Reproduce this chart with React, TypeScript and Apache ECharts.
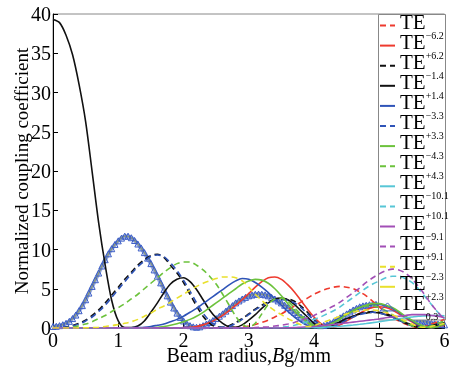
import React, { useEffect, useRef } from "react";
import * as echarts from "echarts";

// x positions (Beam radius, mm) for line series: 0 .. 6 step 0.1
const xLine = Array.from({ length: 61 }, (_, i) => Math.round(i * 10) / 100);
// x positions for the dense triangle markers: 0 .. 6 step 0.05
const xTri = Array.from({ length: 121 }, (_, i) => Math.round(i * 5) / 100);

const teM62 = [0,0,0,0,0,0,0,0,0,0, 0,0,0,0,0,0,0,0,0,0, 0,0,0,0,0.01,0.02,0.03,0.05,0.07,
  0.1,0.25,0.45,0.7,1.0,1.4,1.8,2.3,2.8,3.3,3.8,4.3,4.7,5.0,5.2,5.3,5.2,5.0,4.6,4.1,3.4,2.7,2.0,1.4,0.9,0.5,0.2,0.05,0.2,0.5,0.8,1.1];
const teP62 = [0,0,0,0,0,0,0,0,0,0, 0,0,0,0,0,0,0,0,0,0,
  0.05,0.1,0.2,0.4,0.7,1.1,1.6,2.2,2.9,3.6,4.4,5.2,5.9,6.4,6.5,6.2,5.5,4.6,3.5,2.4,1.4,0.6,0.1,0.1,0.4,0.9,1.4,1.9,2.3,2.6,2.7,2.6,2.3,1.8,1.3,0.8,0.3,0.1,0.05,0.2,0.4];
const teM14 = [0,0.02,0.1,0.3,0.6,1.0,1.6,2.3,3.2,4.2,5.2,6.2,7.1,8.0,8.7,9.2,9.4,9.0,8.0,7.0,5.8,4.3,2.8,1.5,0.6,0.15,0.1,0.3,0.7,1.2,
  1.8,2.4,2.9,3.3,3.6,3.7,3.7,3.4,2.8,2.0,1.1,0.4,0.1,0.3,0.7,1.1,1.5,1.8,2.0,2.1,2.0,1.8,1.5,1.1,0.7,0.4,0.2,0.1,0.2,0.4,0.6];
const teP14 = [39.3,38.9,37.3,34.8,31.0,26.3,19.9,13.4,8.0,3.5,0.9,0.05,0.05,0.25,0.9,2.0,3.2,4.5,5.6,6.2,6.4,5.9,4.9,3.6,2.3,1.3,0.6,0.15,0.1,0.4,
  1.0,1.7,2.5,3.2,3.7,3.8,3.6,3.0,2.2,1.4,0.6,0.15,0.1,0.4,0.8,1.2,1.5,1.8,1.9,2.0,1.9,1.7,1.4,1.0,0.6,0.3,0.1,0.1,0.3,0.5,0.7];
const teM33 = [0,0,0,0,0,0,0,0,0,0,0,0.01,0.03,0.06,
  0.1,0.2,0.35,0.5,0.8,1.1,1.5,2.0,2.5,3.1,3.7,4.3,4.9,5.5,6.0,6.3,6.2,5.8,5.2,4.5,3.7,2.9,2.1,1.4,0.8,0.3,0.05,0.1,0.4,0.8,1.3,1.8,2.2,2.6,2.8,3.0,3.0,2.8,2.5,2.0,1.4,0.9,0.4,0.1,0.05,0.2,0.5];
const teP33 = [0,0.01,0.08,0.25,0.5,0.9,1.4,2.1,2.9,3.9,4.9,5.9,6.9,7.8,8.5,9.1,9.3,9.1,8.3,7.3,6.1,4.7,3.2,1.9,0.9,0.3,0.1,0.2,0.6,1.1,
  1.7,2.3,2.8,3.2,3.5,3.6,3.5,3.2,2.6,1.8,1.0,0.4,0.1,0.2,0.6,1.0,1.4,1.7,1.9,2.0,1.9,1.7,1.4,1.0,0.6,0.3,0.1,0.1,0.3,0.5,0.7];
const teM43 = [0,0,0,0,0,0,0,0,0,0,0,0,0,0,0,0,
  0.1,0.2,0.35,0.55,0.8,1.1,1.5,2.0,2.6,3.2,3.8,4.4,5.0,5.6,6.0,6.2,6.1,5.7,5.0,4.1,3.1,2.2,1.4,0.7,0.2,0.05,0.3,0.7,1.2,1.7,2.2,2.6,2.9,3.1,3.1,2.9,2.6,2.1,1.5,1.0,0.5,0.2,0.05,0.2,0.5];
const teP43 = [0,0,0.02,0.1,0.3,0.5,0.8,1.2,1.6,2.1,2.6,3.1,3.7,4.3,5.0,5.7,6.4,7.1,7.7,8.2,8.4,8.4,8.0,7.4,6.6,5.6,4.3,2.9,1.5,0.5,
  0.1,0.6,1.8,3.0,3.7,3.8,3.4,2.6,1.7,0.9,0.3,0.05,0.2,0.6,1.1,1.7,2.2,2.6,2.8,2.8,2.6,2.2,1.7,1.2,0.7,0.3,0.1,0.1,0.3,0.6,0.9];
const teM101 = [0,0,0,0,0,0,0,0,0,0, 0,0,0,0,0,0,0,0,0,0, 0,0,0,0,0,0,0,0,0,0, 0,0,0,0,0,0,0,0,0,
  0.02,0.05,0.08,0.12,0.17,0.23,0.3,0.38,0.47,0.57,0.68,0.8,0.92,1.05,1.18,1.3,1.4,1.5,1.55,1.6,1.6,1.55];
const teP101 = [0,0,0,0,0,0,0,0,0,0, 0,0,0,0,0,0,0,0,0,0, 0,0,0,0,0,0,0,0,0,0, 0,0,0,0,
  0.05,0.1,0.2,0.35,0.55,0.8,1.1,1.4,1.8,2.2,2.7,3.3,3.9,4.5,5.1,5.6,6.0,6.4,6.6,6.6,6.3,5.8,5.0,4.0,3.0,2.0,1.2];
const teM91 = [0,0,0,0,0,0,0,0,0,0, 0,0,0,0,0,0,0,0,0,0, 0,0,0,0,0,0,0,0,0,0, 0,0,0,0,0,0,
  0.02,0.05,0.1,0.15,0.2,0.3,0.35,0.45,0.55,0.65,0.75,0.85,0.95,1.05,1.15,1.3,1.4,1.5,1.6,1.7,1.7,1.7,1.6,1.5,1.3];
const teP91 = [0,0,0,0,0,0,0,0,0,0, 0,0,0,0,0,0,0,0,0,0, 0,0,0,0,0,0,0,0,0,0, 0,
  0.05,0.1,0.15,0.25,0.35,0.5,0.7,1.0,1.3,1.6,2.0,2.4,2.8,3.3,3.9,4.5,5.1,5.8,6.4,6.9,7.3,7.5,7.4,7.0,6.3,5.3,4.2,3.0,2.0,1.1];
const teM23 = [0,0,0,0,0.01,0.02,0.05,0.1,0.2,0.3,0.45,0.6,0.8,1.1,1.5,1.9,2.4,2.8,3.3,3.8,4.3,4.8,5.3,5.7,6.0,6.3,6.5,6.5,6.4,6.0,
  5.2,4.3,3.5,2.8,2.2,1.7,1.2,0.8,0.4,0.2,0.3,0.6,0.9,1.2,1.5,1.8,2.0,2.2,2.3,2.3,2.2,2.0,1.7,1.3,0.9,0.5,0.2,0.1,0.2,0.4,0.6];
const teP23 = [0.2,0.3,0.6,1.2,2.2,3.6,5.3,7.0,8.7,10.1,11.1,11.7,11.5,10.7,9.6,8.3,6.7,5.0,3.4,2.0,0.9,0.3,0.1,0.3,0.7,1.2,1.8,2.5,3.2,3.7,
  4.1,4.3,4.3,4.1,3.7,3.2,2.6,2.0,1.4,0.9,0.5,0.3,0.4,0.8,1.3,1.8,2.3,2.7,2.9,3.0,3.0,2.8,2.5,2.1,1.7,1.3,1.0,0.8,0.6,0.5,0.4];
const te03 = [0.2,0.22,0.3,0.42,0.6,0.85,1.2,1.65,2.2,2.85,3.6,4.45,5.3,6.15,7.0,7.9,8.7,9.45,10.1,10.65,
  11.1,11.45,11.7,11.7,11.5,11.15,10.7,10.2,9.6,8.9,8.2,7.4,6.6,5.75,4.9,4.1,3.3,2.55,1.9,1.35,
  0.9,0.55,0.3,0.15,0.1,0.15,0.3,0.5,0.7,0.95,1.2,1.5,1.8,2.15,2.5,2.85,3.2,3.45,3.7,3.9,
  4.1,4.2,4.3,4.32,4.3,4.22,4.1,3.9,3.7,3.45,3.2,2.9,2.6,2.3,2.0,1.7,1.4,1.15,0.9,0.7,
  0.5,0.38,0.3,0.32,0.4,0.58,0.8,1.05,1.3,1.55,1.8,2.05,2.3,2.5,2.7,2.82,2.9,2.96,3.0,3.02,
  3.0,2.92,2.8,2.66,2.5,2.3,2.1,1.9,1.7,1.5,1.3,1.15,1.0,0.9,0.8,0.7,0.6,0.55,0.5,0.45,0.4];

const xTicks = [0, 6, 1];
const yTicks = [0, 40, 5];

const RED = "#ee3a2e";
const BLACK = "#111111";
const BLUE = "#2f54b8";
const GREEN = "#6cc23c";
const CYAN = "#57c6d6";
const PURPLE = "#a24fb6";
const YELLOW = "#e9e02c";
const TRI = "#3a5cc6";
const SERIF = "'Liberation Serif', 'Times New Roman', serif";

const lineDefs: [string, number[], string, boolean][] = [
  ["TE−6.2", teM62, RED, true],
  ["TE+6.2", teP62, RED, false],
  ["TE−1.4", teM14, BLACK, true],
  ["TE+1.4", teP14, BLACK, false],
  ["TE−3.3", teM33, BLUE, false],
  ["TE+3.3", teP33, BLUE, true],
  ["TE−4.3", teM43, GREEN, false],
  ["TE+4.3", teP43, GREEN, true],
  ["TE−10.1", teM101, CYAN, false],
  ["TE+10.1", teP101, CYAN, true],
  ["TE−9.1", teM91, PURPLE, false],
  ["TE+9.1", teP91, PURPLE, true],
  ["TE−2.3", teM23, YELLOW, true],
  ["TE+2.3", teP23, YELLOW, false],
];

export default function App() {
  const ref = useRef<HTMLDivElement>(null);
  useEffect(() => {
    if (!ref.current) return;
    const chart = echarts.init(ref.current, null, { renderer: "svg" });
    const triStyle = { color: "rgba(255,255,255,0)", borderColor: TRI, borderWidth: 1, opacity: 1 };
    const triSeries = {
      name: "TE0.3",
      type: "line",
      smooth: 0.3,
      symbol: "triangle",
      symbolSize: 6,
      showSymbol: true,
      showAllSymbol: true,
      lineStyle: { color: TRI, width: 4, opacity: 0.55 },
      itemStyle: triStyle,
      data: te03.map((v, i) => [xTri[i], v]),
      z: 2,
    };
    const lines = lineDefs.map(([name, vals, color, dashed]) => ({
      name,
      type: "line",
      smooth: 0.3,
      symbol: "none",
      lineStyle: { color, width: 1.6, type: dashed ? [6, 4] : "solid" },
      itemStyle: { color },
      data: vals.map((v, i) => [xLine[i], v]),
      z: name === "TE+2.3" ? 2 : 3,
    }));
    const yellowSolid = lines.filter((l) => l.name === "TE+2.3");
    const others = lines.filter((l) => l.name !== "TE+2.3");
    const legendNames = [...lineDefs.map((d) => d[0]), "TE0.3"];
    chart.setOption({
      animation: false,
      grid: {
        left: 53, right: 4.5, top: 14, bottom: 49,
        outerBoundsMode: "none",
        containLabel: false,
        show: true, borderColor: "#888", borderWidth: 1, backgroundColor: "transparent",
      },
      xAxis: {
        type: "value",
        min: xTicks[0],
        max: xTicks[1],
        interval: xTicks[2],
        axisLine: { lineStyle: { color: "#000", width: 1 } },
        axisTick: { inside: true, length: 5, lineStyle: { color: "#000" } },
        splitLine: { show: false },
        axisLabel: { fontSize: 20, color: "#000", fontFamily: SERIF, margin: 2 },
        name: "Beam radius,{i|B}g/mm",
        nameLocation: "middle",
        nameGap: 17,
        nameMoveOverlap: false,
        nameTextStyle: {
          fontSize: 20, color: "#000", fontFamily: SERIF,
          rich: { i: { fontSize: 20, fontStyle: "italic", fontFamily: SERIF, color: "#000" } },
        },
      },
      yAxis: {
        type: "value",
        min: yTicks[0],
        max: yTicks[1],
        interval: yTicks[2],
        axisLine: { show: true, lineStyle: { color: "#000", width: 1 } },
        axisTick: { show: true, inside: true, length: 5, lineStyle: { color: "#000" } },
        splitLine: { show: false },
        axisLabel: { fontSize: 20, color: "#000", fontFamily: SERIF, margin: 2 },
        name: "Normalized coupling coefficient",
        nameLocation: "middle",
        nameGap: 22,
        nameMoveOverlap: false,
        nameTextStyle: { fontSize: 19, color: "#000", fontFamily: SERIF },
      },
      graphic: [
        {
          type: "rect",
          z: 3,
          shape: { x: 378.5, y: 14.5, width: 67, height: 305.5 },
          style: { fill: "#fff", stroke: "#888", lineWidth: 1 },
        },
      ],
      legend: {
        orient: "vertical",
        left: 379,
        top: 11,
        z: 5,
        padding: 0,
        itemGap: -8.9,
        itemWidth: 15,
        itemHeight: 8,
        itemStyle: { opacity: 0 },
        data: legendNames.map((n) => (n === "TE0.3" ? { name: n, icon: "triangle", itemStyle: triStyle } : { name: n })),
        formatter: (name: string) => `{t|TE}{s|${name.slice(2)}}`,
        textStyle: {
          color: "#000",
          fontFamily: SERIF,
          rich: {
            t: { fontSize: 21, fontFamily: SERIF, color: "#000", lineHeight: 22, verticalAlign: "top" },
            s: { fontSize: 10, fontFamily: SERIF, color: "#000", lineHeight: 29, verticalAlign: "bottom" },
          },
        },
      },
      series: [...yellowSolid, triSeries, ...others],
    });
    return () => chart.dispose();
  }, []);
  return <div ref={ref} style={{ position: "fixed", left: 0, top: 0, width: 449, height: 377 }} />;
}
